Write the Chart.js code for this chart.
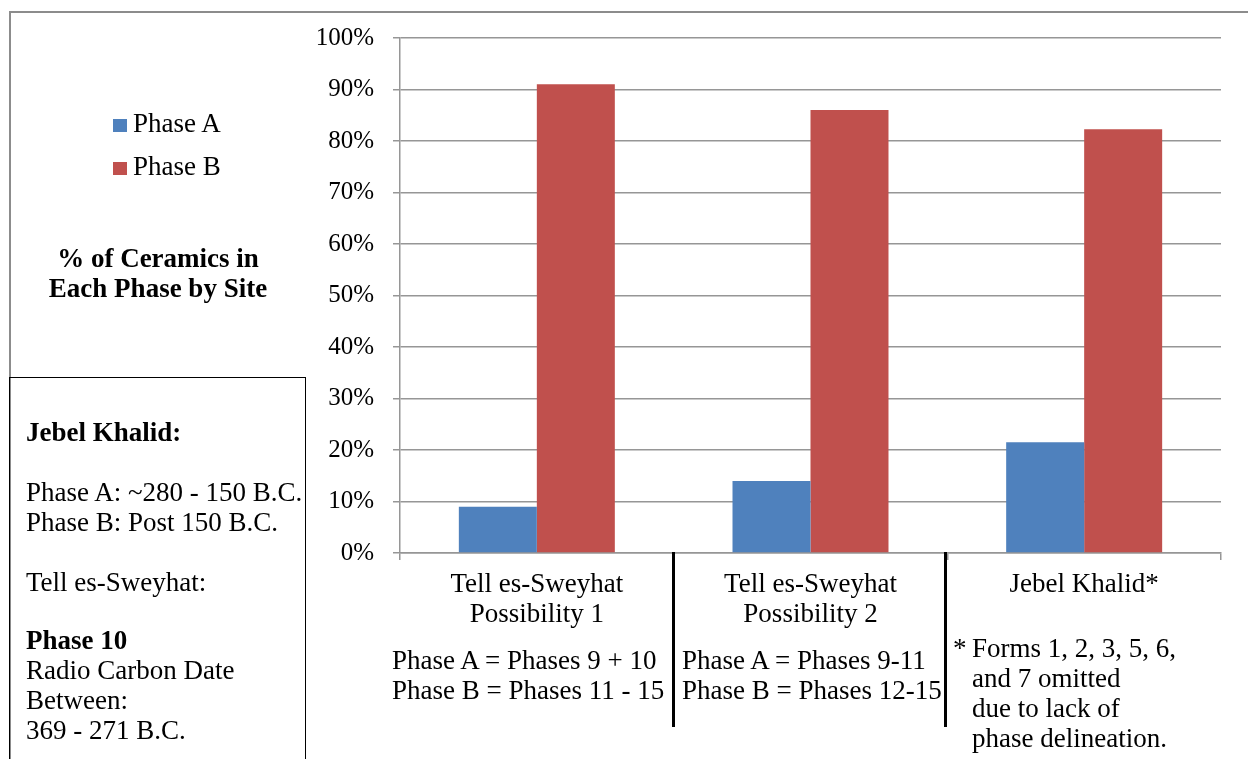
<!DOCTYPE html>
<html>
<head>
<meta charset="utf-8">
<script src="https://cdn.jsdelivr.net/npm/chart.js@4.4.1/dist/chart.umd.min.js"></script>
<style>
  body { margin: 0; background: #fff; }
  #wrap { position: relative; width: 1248px; height: 759px; overflow: hidden;
          font-family: 'Liberation Serif', 'Times New Roman', serif; color: #000; }
  #chart { position: absolute; left: 0; top: 0; }
  .frame { position: absolute; left: 9px; top: 11px; width: 1260px; height: 800px;
           border-left: 2px solid #8c8c8c; border-top: 2px solid #8c8c8c; }
  .note { position: absolute; font-size: 27px; line-height: 30px; white-space: nowrap; }
  .title { position: absolute; left: 20px; width: 276px; top: 243px; text-align: center;
           font-size: 27px; font-weight: bold; line-height: 30px; }
  .box { position: absolute; left: 9px; top: 377px; width: 295px; height: 420px;
         border: 1.5px solid #000; }
  .sep { position: absolute; top: 552px; width: 3px; height: 175px; background: #000; }
  .legend { position: absolute; left: 113px; top: 108px; font-size: 27px; }
  .legend div { height: 43px; line-height: 30px; white-space: nowrap; }
  .legend span { display: inline-block; width: 14px; height: 13px; margin-right: 6px; vertical-align: 0px; }
</style>
</head>
<body>
<div id="wrap">
  <div class="frame"></div>
  <canvas id="chart" width="1248" height="759"></canvas>

  <div class="legend" id="legend"></div>
  <div class="title">% of Ceramics in<br>Each Phase by Site</div>

  <div class="box"></div>
  <div class="note" style="left:26px; top:417px; font-weight:bold;">Jebel Khalid:</div>
  <div class="note" style="left:26px; top:477px;">Phase A: ~280 - 150 B.C.<br>Phase B: Post 150 B.C.</div>
  <div class="note" style="left:26px; top:567px;">Tell es-Sweyhat:</div>
  <div class="note" style="left:26px; top:625px; font-weight:bold;">Phase 10</div>
  <div class="note" style="left:26px; top:655px;">Radio Carbon Date<br>Between:<br>369 - 271 B.C.</div>

  <div class="note" style="left:392px; top:645px;">Phase A = Phases 9 + 10<br>Phase B = Phases 11 - 15</div>
  <div class="note" style="left:682px; top:645px;">Phase A = Phases 9-11<br>Phase B = Phases 12-15</div>
  <div class="note" style="left:953px; top:633px;">*</div>
  <div class="note" style="left:972px; top:633px;">Forms 1, 2, 3, 5, 6,<br>and 7 omitted<br>due to lack of<br>phase delineation.</div>

  <div class="sep" style="left:672px;"></div>
  <div class="sep" style="left:944px;"></div>
</div>

<script>
// sites on the category axis (two-line labels)
const sites = [
  ['Tell es-Sweyhat', 'Possibility 1'],
  ['Tell es-Sweyhat', 'Possibility 2'],
  'Jebel Khalid*'
];
const phaseA = [9, 14, 21.5];
const phaseB = [91, 86, 82.3];
const yTicks = [0, 10, 20, 30, 40, 50, 60, 70, 80, 90, 100];

const seriesNames = ['Phase A', 'Phase B'];
const seriesColors = ['#4F81BD', '#C0504D'];

Chart.defaults.font.family = "'Liberation Serif', 'Times New Roman', serif";
Chart.defaults.font.size = 25;
Chart.defaults.color = '#000';

const chart = new Chart(document.getElementById('chart'), {
  type: 'bar',
  data: {
    labels: sites,
    datasets: [
      { label: seriesNames[0], data: phaseA, backgroundColor: seriesColors[0] },
      { label: seriesNames[1], data: phaseB, backgroundColor: seriesColors[1] }
    ]
  },
  options: {
    responsive: false,
    animation: false,
    layout: { padding: { left: 300, top: 38, right: 27, bottom: 0 } },
    datasets: { bar: { barPercentage: 1, categoryPercentage: 0.57 } },
    plugins: { legend: { display: false }, tooltip: { enabled: false } },
    scales: {
      x: {
        grid: { drawOnChartArea: false, color: '#969696', lineWidth: 1.5, tickLength: 7 },
        border: { color: '#969696', width: 1.5 },
        ticks: { padding: 10, font: { size: 27, lineHeight: '30px' }, maxRotation: 0 },
        afterFit: s => { s.height = 206; }
      },
      y: {
        min: 0, max: 100,
        afterBuildTicks: s => { s.ticks = yTicks.map(v => ({ value: v })); },
        grid: { color: '#969696', lineWidth: 1.5, tickLength: 7 },
        border: { color: '#969696', width: 1.5 },
        ticks: { padding: 19, callback: v => v + '%' },
        afterFit: s => { s.width = 100; }
      }
    }
  }
});

// legend built from the dataset names/colours
document.getElementById('legend').innerHTML = chart.data.datasets
  .map(d => `<div><span style="background:${d.backgroundColor}"></span>${d.label}</div>`).join('');
</script>
</body>
</html>
